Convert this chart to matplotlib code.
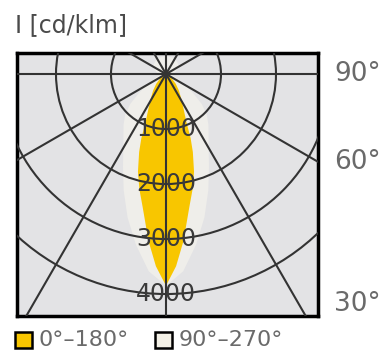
import matplotlib
matplotlib.use("Agg")
import matplotlib.pyplot as plt
import matplotlib.transforms as mtransforms
from matplotlib.patches import Circle, Rectangle
import numpy as np

# ── data ──────────────────────────────────────────────────────────────────────

RINGS = [1000, 2000, 3000, 4000]                 # cd/klm
RING_LABELS = ["1000", "2000", "3000", "4000"]
SPOKE_STEP = 30                                  # degrees between radial lines
ANGLE_MARKS = [90, 60, 30]
ANGLE_LABELS = ["90°", "60°", "30°"]

# C0–C180 plane (gamma from nadir, degrees -> cd/klm)
GAMMA_C0 = [0, 3, 6, 10, 13, 16, 19, 21, 23, 27, 32, 38, 45, 55, 70, 90]
I_C0 = [3850, 3500, 3050, 2450, 2150, 1850, 1500, 1250, 950, 700, 520, 380,
        250, 120, 50, 20]

# C90–C270 plane
GAMMA_C90 = [0, 5, 10, 15, 20, 25, 30, 35, 40, 45, 50, 55, 60, 70, 80, 90,
             120, 150, 180]
I_C90 = [3850, 3600, 3150, 2700, 2250, 1850, 1550, 1350, 1200, 1050, 850,
         600, 400, 200, 120, 150, 280, 330, 330]

LEGEND_LABELS = ["0°–180°", "90°–270°"]

# ── styling ───────────────────────────────────────────────────────────────────

YELLOW = "#f8c600"
CREAM = "#efeeea"
PANEL = "#e3e3e5"
GRID = "#333333"
TEXT_DARK = "#3a3a3a"
TEXT_GREY = "#6a6a6a"

XLIM = (-2718, 2764)
YLIM = (-4400, 382)


def outline(gamma, inten):
    """Closed curve for one plane pair, mirrored about the nadir axis."""
    g = np.radians(gamma)
    r = np.asarray(inten, dtype=float)
    x = r * np.sin(g)
    y = -r * np.cos(g)
    return (np.concatenate([x, -x[::-1]]), np.concatenate([y, y[::-1]]))


fig = plt.figure(figsize=(3.83, 3.5), dpi=100)
ax = fig.add_axes([0.0431, 0.0971, 0.7872, 0.7514])
ax.set_xlim(*XLIM)
ax.set_ylim(*YLIM)
ax.set_facecolor(PANEL)
ax.set_xticks([])
ax.set_yticks([])
for sp in ax.spines.values():
    sp.set_color("black")
    sp.set_linewidth(2.5)

ax.fill(*outline(GAMMA_C90, I_C90), color=CREAM, lw=0, zorder=1)
ax.fill(*outline(GAMMA_C0, I_C0), color=YELLOW, lw=0, zorder=2)

# grid: concentric rings and radial spokes
for r in RINGS:
    ax.add_patch(Circle((0, 0), r, fill=False, ec=GRID, lw=1.5, zorder=3))
reach = 10000
for a in range(0, 360, SPOKE_STEP):
    t = np.radians(a)
    ax.plot([0, reach * np.sin(t)], [0, -reach * np.cos(t)],
            color=GRID, lw=1.5, zorder=3, solid_capstyle="butt")

for r, lab in zip(RINGS, RING_LABELS):
    ax.text(0, -r, lab, ha="center", va="center", fontsize=17,
            color=TEXT_DARK, zorder=4)

# angle labels to the right of the panel, at the height where each spoke leaves it
trans = mtransforms.blended_transform_factory(fig.transFigure, ax.transData)
for a, lab in zip(ANGLE_MARKS, ANGLE_LABELS):
    t = np.radians(a)
    y = -XLIM[1] * np.cos(t) / np.sin(t)
    y = max(y, YLIM[0] * 0.95)
    ax.text(0.872, y, lab, transform=trans, ha="left", va="center",
            fontsize=19, color=TEXT_GREY, clip_on=False)

fig.text(15 / 383, 1 - 25 / 350, "I [cd/klm]", fontsize=17,
         va="center", ha="left", color="#4a4a4a")

# legend swatches
for x0, fc, lab, tx in [(15, YELLOW, LEGEND_LABELS[0], 38),
                        (155, "#f3f0e6", LEGEND_LABELS[1], 179)]:
    fig.add_artist(Rectangle((x0 / 383, 1 - 348 / 350), 17 / 383, 16 / 350,
                             transform=fig.transFigure, fc=fc, ec="black",
                             lw=1.8))
    fig.text(tx / 383, 1 - 340 / 350, lab, fontsize=16, va="center",
             ha="left", color=TEXT_GREY)

fig.savefig("out.png", dpi=100, facecolor="white")
